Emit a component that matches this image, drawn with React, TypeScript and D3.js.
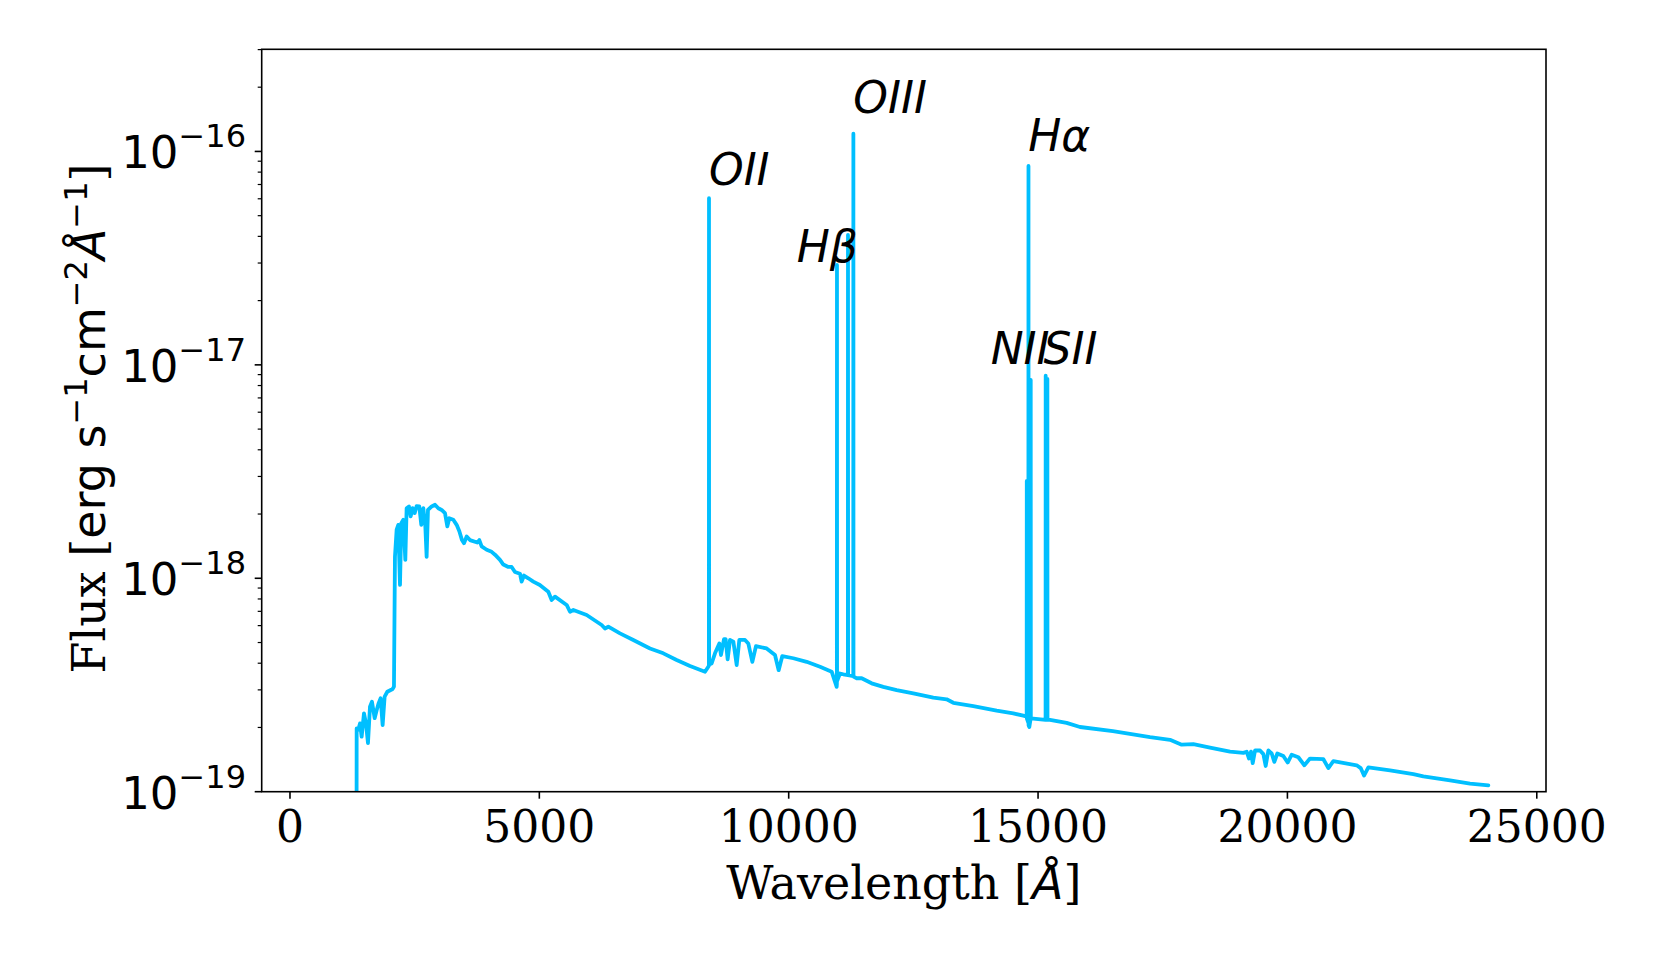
import React from "react";
import * as d3 from "d3";

// spectrum (wavelength in Angstrom, flux in erg/s/cm2/A)
const wavelength = [
  1335, 1337, 1370, 1404, 1437, 1484, 1524, 1564, 1604, 1644, 1698, 1738, 1778, 1818, 1858, 1898,
  1952, 2059, 2085, 2105, 2139, 2172, 2206, 2232, 2273, 2313, 2339, 2386, 2420, 2460, 2500, 2540,
  2593, 2633, 2674, 2714, 2740, 2767, 2841, 2908, 2974, 3041, 3108, 3155, 3195, 3275, 3342, 3396,
  3449, 3489, 3543, 3609, 3756, 3796, 3843, 3944, 4044, 4111, 4211, 4278, 4378, 4445, 4512, 4612,
  4645, 4692, 4779, 4879, 5010, 5180, 5247, 5314, 5548, 5615, 5682, 5949, 6250, 6316, 6383, 6617,
  6884, 7219, 7486, 7753, 8021, 8322, 8388, 8400, 8402, 8404, 8455, 8522, 8609, 8642, 8702, 8736,
  8776, 8823, 8890, 8957, 9010, 9124, 9190, 9271, 9344, 9558, 9725, 9799, 9872, 10093, 10360, 10628,
  10862, 10929, 10962, 10966, 10968, 10970, 11028, 11095, 11187, 11189, 11191, 11295, 11297, 11299, 11363, 11463,
  11663, 11897, 12165, 12499, 12900, 13167, 13301, 13702, 14170, 14504, 14704, 14772, 14774, 14776, 14806, 14808,
  14810, 14825, 14851, 14853, 14855, 14905, 15151, 15153, 15155, 15185, 15187, 15189, 15239, 15573, 15841, 16500,
  17245, 17646, 17880, 18114, 18448, 18849, 19117, 19183, 19230, 19270, 19304, 19351, 19451, 19518, 19564, 19618,
  19685, 19738, 19798, 19918, 20005, 20086, 20219, 20340, 20453, 20721, 20821, 20921, 21389, 21469, 21536, 21623,
  22057, 22525, 22726, 23261, 23662, 24029,
];
const flux = [
  0.5e-19, 1.98e-19, 1.95e-19, 2.09e-19, 1.81e-19, 2.33e-19, 2.09e-19, 1.69e-19, 2.5e-19, 2.64e-19, 2.21e-19, 2.41e-19, 2.6e-19, 2.74e-19, 2.05e-19, 2.79e-19,
  2.94e-19, 3.03e-19, 3.11e-19, 1.26e-18, 1.69e-18, 1.78e-18, 9.31e-19, 1.81e-18, 1.88e-18, 1.22e-18, 2.13e-18, 2.17e-18, 1.95e-18, 2.13e-18, 2.02e-18, 2.18e-18,
  2.17e-18, 1.78e-18, 2.13e-18, 1.75e-18, 1.26e-18, 2.09e-18, 2.17e-18, 2.21e-18, 2.13e-18, 2.09e-18, 2.02e-18, 1.75e-18, 1.91e-18, 1.88e-18, 1.78e-18, 1.66e-18,
  1.51e-18, 1.46e-18, 1.57e-18, 1.51e-18, 1.47e-18, 1.51e-18, 1.41e-18, 1.36e-18, 1.33e-18, 1.29e-18, 1.22e-18, 1.16e-18, 1.13e-18, 1.13e-18, 1.07e-18, 1.05e-18,
  9.64e-19, 1.03e-18, 1.0e-18, 9.64e-19, 9.3e-19, 8.65e-19, 7.91e-19, 8.2e-19, 7.5e-19, 6.97e-19, 7.1e-19, 6.73e-19, 6.04e-19, 5.82e-19, 5.93e-19, 5.52e-19,
  5.14e-19, 4.69e-19, 4.45e-19, 4.14e-19, 3.88e-19, 3.65e-19, 3.85e-19, 3.9e-19, 6.04e-17, 3.95e-19, 3.99e-19, 4.45e-19, 4.95e-19, 4.37e-19, 5.18e-19, 5.18e-19,
  4.17e-19, 5.14e-19, 5.05e-19, 3.92e-19, 5.14e-19, 5.14e-19, 4.95e-19, 4.06e-19, 4.81e-19, 4.69e-19, 4.37e-19, 3.71e-19, 4.32e-19, 4.22e-19, 4.06e-19, 3.85e-19,
  3.65e-19, 3.27e-19, 3.1e-19, 3.2e-19, 2.94e-17, 3.3e-19, 3.58e-19, 3.55e-19, 3.52e-19, 4.06e-17, 3.52e-19, 3.48e-19, 1.21e-16, 3.46e-19, 3.4e-19, 3.4e-19,
  3.22e-19, 3.1e-19, 2.99e-19, 2.89e-19, 2.76e-19, 2.71e-19, 2.61e-19, 2.52e-19, 2.4e-19, 2.33e-19, 2.27e-19, 2.25e-19, 2.86e-18, 2.2e-19, 2.1e-19, 8.55e-17,
  2.05e-19, 2.01e-19, 2.2e-19, 8.5e-18, 2.2e-19, 2.2e-19, 2.17e-19, 8.9e-18, 2.17e-19, 2.17e-19, 8.6e-18, 2.17e-19, 2.17e-19, 2.1e-19, 2.01e-19, 1.92e-19,
  1.8e-19, 1.75e-19, 1.66e-19, 1.67e-19, 1.61e-19, 1.54e-19, 1.52e-19, 1.54e-19, 1.43e-19, 1.54e-19, 1.36e-19, 1.56e-19, 1.56e-19, 1.5e-19, 1.32e-19, 1.56e-19,
  1.51e-19, 1.38e-19, 1.51e-19, 1.47e-19, 1.37e-19, 1.49e-19, 1.45e-19, 1.33e-19, 1.43e-19, 1.42e-19, 1.29e-19, 1.39e-19, 1.33e-19, 1.29e-19, 1.19e-19, 1.3e-19,
  1.26e-19, 1.21e-19, 1.18e-19, 1.13e-19, 1.09e-19, 1.07e-19,
];

// emission line labels
const lineNames = ["OII", "Hβ", "OIII", "Hα", "NII", "SII"];
const lineLabelX = [8402, 10160, 11296, 14804, 14050, 15110];
const lineLabelY = [6.97e-17, 3.03e-17, 1.51e-16, 1.01e-16, 1.01e-17, 1.01e-17];

const xTicks = [0, 5000, 10000, 15000, 20000, 25000];
const yDecades = [-19, -18, -17, -16];

const W = 1661;
const H = 969;
const M = { left: 261.7, right: 1546, top: 49.3, bottom: 791.7 };
const COLOR = "#00bfff";
const SERIF = "'DejaVu Serif', serif";
const SANS = "'DejaVu Sans', sans-serif";

export default function App() {
  const x = d3.scaleLinear().domain([-567, 25185]).range([M.left, M.right]);
  const y = d3.scaleLog().domain([1e-19, 3.01e-16]).range([M.bottom, M.top]);

  const pts: [number, number][] = wavelength.map((w, i) => [w, flux[i]]);
  const path = d3
    .line<[number, number]>()
    .x((d) => x(d[0]))
    .y((d) => y(d[1]))(pts);

  // minor ticks 2..9 x 10^n inside the domain
  const minor: number[] = [];
  yDecades.forEach((e) => {
    for (let m = 2; m <= 9; m++) {
      const v = m * Math.pow(10, e);
      if (v <= y.domain()[1]) minor.push(v);
    }
  });

  return (
    <svg
      width={W}
      height={H}
      style={{ position: "absolute", left: 0, top: 0, background: "#fff" }}
    >
      <defs>
        <clipPath id="plotArea">
          <rect x={M.left} y={M.top} width={M.right - M.left} height={M.bottom - M.top} />
        </clipPath>
      </defs>

      <path
        d={path || ""}
        fill="none"
        stroke={COLOR}
        strokeWidth={3.8}
        strokeLinejoin="round"
        strokeLinecap="round"
        clipPath="url(#plotArea)"
      />

      {lineNames.map((name, i) => (
        <text
          key={name}
          x={x(lineLabelX[i])}
          y={y(lineLabelY[i])}
          fontFamily={SANS}
          fontStyle="italic"
          fontSize={44}
          fill="#000"
        >
          {name}
        </text>
      ))}

      {/* frame */}
      <rect
        x={M.left}
        y={M.top}
        width={M.right - M.left}
        height={M.bottom - M.top}
        fill="none"
        stroke="#000"
        strokeWidth={1.6}
      />

      {/* x ticks */}
      {xTicks.map((t) => (
        <g key={t}>
          <line x1={x(t)} x2={x(t)} y1={M.bottom} y2={M.bottom + 7} stroke="#000" strokeWidth={1.6} />
          <text x={x(t)} y={842} textAnchor="middle" fontFamily={SERIF} fontSize={44} fill="#000">
            {t}
          </text>
        </g>
      ))}

      {/* y ticks */}
      {yDecades.map((e) => {
        const v = Math.pow(10, e);
        return (
          <g key={e}>
            <line x1={M.left - 7} x2={M.left} y1={y(v)} y2={y(v)} stroke="#000" strokeWidth={1.6} />
            <text x={246} y={y(v) + 17} textAnchor="end" fontFamily={SANS} fill="#000">
              <tspan fontSize={45}>10</tspan>
              <tspan fontSize={32} dy={-21}>
                {"\u2212" + Math.abs(e)}
              </tspan>
            </text>
          </g>
        );
      })}
      {minor.map((v) => (
        <line key={v} x1={M.left - 4} x2={M.left} y1={y(v)} y2={y(v)} stroke="#000" strokeWidth={1.2} />
      ))}

      {/* axis labels */}
      <text x={(M.left + M.right) / 2} y={899} textAnchor="middle" fontFamily={SERIF} fontSize={46} fill="#000">
        Wavelength [
        <tspan fontFamily={SANS} fontStyle="italic">Å</tspan>]
      </text>
      <text
        transform={`translate(105, ${(M.top + M.bottom) / 2 - 2}) rotate(-90)`}
        textAnchor="middle"
        fontSize={46}
        fill="#000"
      >
        <tspan fontFamily={SERIF}>Flux [</tspan>
        <tspan fontFamily={SANS}>erg s</tspan>
        <tspan fontFamily={SANS} fontSize={32} dy={-18}>{"\u22121"}</tspan>
        <tspan fontFamily={SANS} dy={18}>cm</tspan>
        <tspan fontFamily={SANS} fontSize={32} dy={-18}>{"\u22122"}</tspan>
        <tspan fontFamily={SANS} fontStyle="italic" dy={18}>Å</tspan>
        <tspan fontFamily={SANS} fontSize={32} dy={-18}>{"\u22121"}</tspan>
        <tspan fontFamily={SERIF} dy={18}>]</tspan>
      </text>
    </svg>
  );
}
